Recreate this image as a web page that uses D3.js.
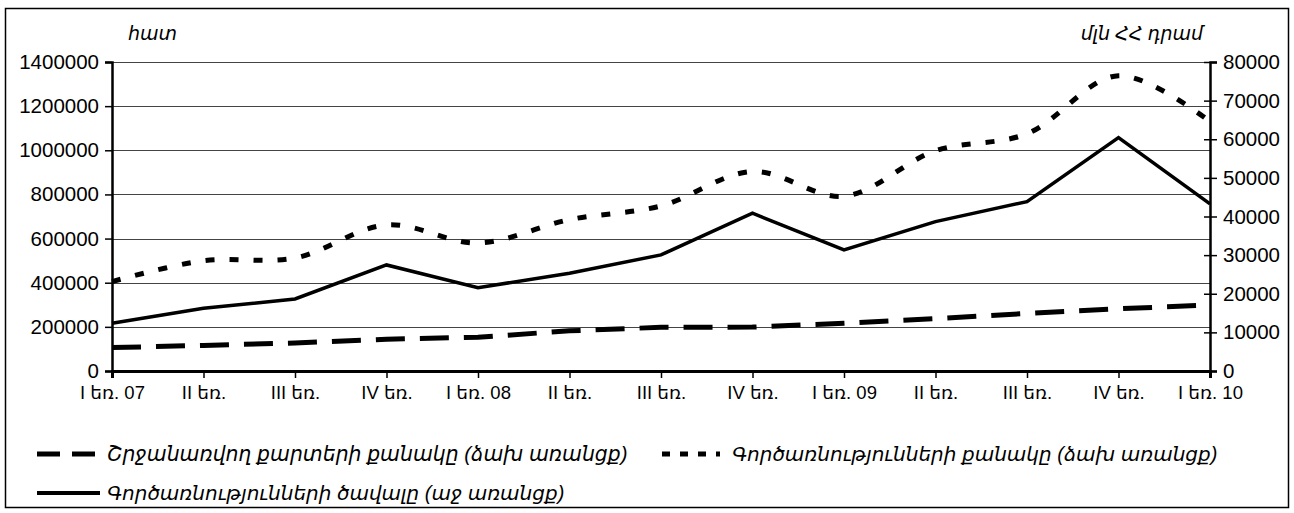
<!DOCTYPE html>
<html>
<head>
<meta charset="utf-8">
<script src="https://cdn.jsdelivr.net/npm/d3@7"></script>
<style>
  html, body { margin: 0; padding: 0; background: #fff; }
  svg text { font-family: "Liberation Sans", Arial, "DejaVu Sans", sans-serif; fill: #000; }
  .it { font-style: italic; }
</style>
</head>
<body>
<svg id="chart" width="1294" height="513"></svg>
<script>
// ---- data ----
const categories = ["I եռ. 07", "II եռ.", "III եռ.", "IV եռ.", "I եռ. 08", "II եռ.", "III եռ.", "IV եռ.", "I եռ. 09", "II եռ.", "III եռ.", "IV եռ.", "I եռ. 10"];
const cardsCount = [106000, 116000, 127000, 144000, 153000, 182000, 198000, 199000, 216000, 237000, 261000, 282000, 299000];
const transCount = [405000, 500000, 512000, 662000, 580000, 686000, 748000, 904000, 792000, 998000, 1075000, 1338000, 1130000];
const transVolume = [12360, 16240, 18650, 27460, 21580, 25310, 30050, 40850, 31350, 38680, 43860, 60440, 43260];
const leftTicks = [0, 200000, 400000, 600000, 800000, 1000000, 1200000, 1400000];
const rightTicks = [0, 10000, 20000, 30000, 40000, 50000, 60000, 70000, 80000];
const leftUnit = "հատ";
const rightUnit = "մլն ՀՀ դրամ";
const legendLabels = [
  "Շրջանառվող քարտերի քանակը (ձախ առանցք)",
  "Գործառնությունների քանակը (ձախ առանցք)",
  "Գործառնությունների  ծավալը (աջ առանցք)"
];

// ---- layout ----
const svg = d3.select("#chart");
const X0 = 112, X1 = 1210, Y0 = 371, Y1 = 62;
const idx = categories.map((d, i) => i);

svg.append("rect").attr("x", 5.5).attr("y", 8.5).attr("width", 1283).attr("height", 499)
  .attr("fill", "#fff").attr("stroke", "#000").attr("stroke-width", 1.5);

const x = d3.scalePoint().domain(idx).range([X0, X1]);
const yL = d3.scaleLinear().domain([0, 1400000]).range([Y0, Y1]);
const yR = d3.scaleLinear().domain([0, 80000]).range([Y0, Y1]);

// gridlines (left ticks)
svg.append("g").selectAll("line").data(leftTicks.slice(1)).join("line")
  .attr("x1", X0).attr("x2", X1)
  .attr("y1", d => Math.round(yL(d)) + 0.5).attr("y2", d => Math.round(yL(d)) + 0.5)
  .attr("stroke", "#444").attr("stroke-width", 1.2);

// left axis
const gL = svg.append("g").attr("transform", `translate(${X0},0)`)
  .call(d3.axisLeft(yL).tickValues(leftTicks).tickFormat(d3.format("d")).tickSize(7).tickPadding(6));
gL.select(".domain").attr("stroke-width", 2.5);
gL.selectAll(".tick line").attr("stroke-width", 1.5);
gL.selectAll("text").style("font-size", "20.5px");

// right axis
const gR = svg.append("g").attr("transform", `translate(${X1},0)`)
  .call(d3.axisRight(yR).tickValues(rightTicks).tickFormat(d3.format("d")).tickSize(7).tickPadding(6));
gR.select(".domain").attr("stroke-width", 2.5);
gR.selectAll(".tick line").attr("x1", -6).attr("stroke-width", 1.5);
gR.selectAll("text").style("font-size", "20.5px");

// bottom axis
const gB = svg.append("g").attr("transform", `translate(0,${Y0})`)
  .call(d3.axisBottom(x).tickFormat(i => categories[i]).tickSize(7).tickPadding(5));
gB.select(".domain").attr("stroke-width", 3);
gB.selectAll(".tick line").attr("stroke-width", 1.5);
gB.selectAll("text").style("font-size", "18.5px").attr("dy", "0.85em");

// units
svg.append("text").attr("class", "it").attr("x", 128).attr("y", 40).style("font-size", "19px").text(leftUnit);
svg.append("text").attr("class", "it").attr("x", 1203).attr("y", 40).attr("text-anchor", "end").style("font-size", "19px").text(rightUnit);

// lines
const lineStraightL = d3.line().x((d, i) => x(i)).y(d => yL(d));
const lineSmoothL = d3.line().x((d, i) => x(i)).y(d => yL(d)).curve(d3.curveCatmullRom.alpha(0.5));
const lineStraightR = d3.line().x((d, i) => x(i)).y(d => yR(d));

svg.append("path").attr("d", lineStraightL(cardsCount)).attr("fill", "none").attr("stroke", "#000")
  .attr("stroke-width", 5).attr("stroke-dasharray", "29 15");
svg.append("path").attr("d", lineSmoothL(transCount)).attr("fill", "none").attr("stroke", "#000")
  .attr("stroke-width", 5).attr("stroke-dasharray", "9 15");
svg.append("path").attr("d", lineStraightR(transVolume)).attr("fill", "none").attr("stroke", "#000")
  .attr("stroke-width", 3.5).attr("stroke-linejoin", "miter");

// legend
const leg = svg.append("g");
const items = [
  { x: 37, y: 454, dash: "23 12", w: 5, fs: 20.4, label: legendLabels[0] },
  { x: 662, y: 454, dash: "8 10", w: 5, fs: 20, label: legendLabels[1] },
  { x: 37, y: 493, dash: null, w: 4, fs: 20, label: legendLabels[2] }
];
items.forEach(it => {
  const l = leg.append("line").attr("x1", it.x).attr("x2", it.x + (it.dash ? 58 : 63))
    .attr("y1", it.y).attr("y2", it.y).attr("stroke", "#000").attr("stroke-width", it.w);
  if (it.dash) l.attr("stroke-dasharray", it.dash);
  leg.append("text").attr("class", "it").attr("x", it.x + 70).attr("y", it.y + 7)
    .style("font-size", it.fs + "px").text(it.label);
});
</script>
</body>
</html>
